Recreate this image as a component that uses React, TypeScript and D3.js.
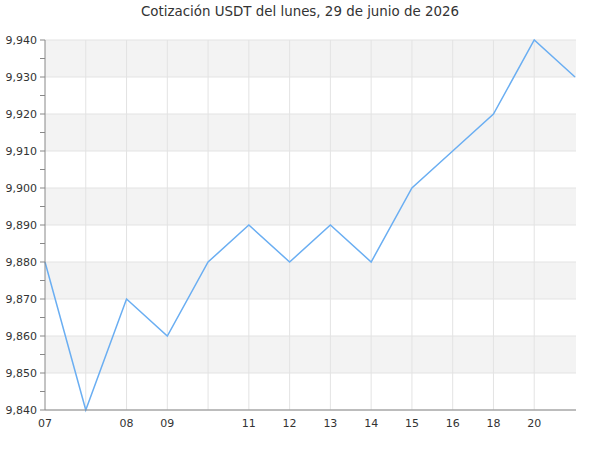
import React from "react";
import * as d3 from "d3";

const title = "Cotización USDT del lunes, 29 de junio de 2026";
const xLabels = ["07", "", "08", "09", "", "11", "12", "13", "14", "15", "16", "18", "20", ""];
const values = [9.88, 9.84, 9.87, 9.86, 9.88, 9.89, 9.88, 9.89, 9.88, 9.9, 9.91, 9.92, 9.94, 9.93];
const yTicks = [9.84, 9.85, 9.86, 9.87, 9.88, 9.89, 9.9, 9.91, 9.92, 9.93, 9.94];

export default function App() {
  const W = 600, H = 450;
  const left = 45, right = 576, top = 40, bottom = 410;
  const x = d3.scaleLinear().domain([0, values.length - 1]).range([left, 575]);
  const y = d3.scaleLinear().domain([9.84, 9.94]).range([bottom, top]);
  const line = d3.line<number>().x((_, i) => x(i)).y((d) => y(d));
  const fmt = (v: number) => d3.format(".3f")(v).replace(".", ",");
  const font = "DejaVu Sans, sans-serif";
  const minor = yTicks.slice(0, -1).map((t) => t + 0.005);

  return (
    <svg width={W} height={H} style={{ position: "absolute", left: 0, top: 0 }}>
      <rect width={W} height={H} fill="#fff" />
      <text x={W / 2} y={16} textAnchor="middle" fontFamily={font} fontSize={13.4} fill="#333">
        {title}
      </text>
      {yTicks.slice(0, -1).map((t, i) =>
        i % 2 === 1 ? (
          <rect key={"b" + i} x={left} width={right - left} y={y(t + 0.01)} height={y(t) - y(t + 0.01)} fill="#f3f3f3" />
        ) : null
      )}
      {yTicks.map((t) => (
        <line key={"gy" + t} x1={left} x2={right} y1={y(t)} y2={y(t)} stroke="#e3e3e3" strokeWidth={1} />
      ))}
      {values.map((_, i) =>
        i > 0 && i < values.length - 1 ? (
          <line key={"gx" + i} x1={x(i)} x2={x(i)} y1={top} y2={bottom} stroke="#e3e3e3" strokeWidth={1} />
        ) : null
      )}
      <path d={line(values) || ""} fill="none" stroke="#6aaef2" strokeWidth={1.5} />
      <line x1={left} x2={left} y1={top} y2={bottom} stroke="#888" strokeWidth={1} />
      <line x1={left} x2={right} y1={bottom} y2={bottom} stroke="#888" strokeWidth={1} />
      {yTicks.map((t) => (
        <g key={"yt" + t}>
          <line x1={left - 5} x2={left} y1={y(t)} y2={y(t)} stroke="#888" />
          <text x={left - 8} y={y(t)} dy="0.35em" textAnchor="end" fontFamily={font} fontSize={11} fill="#333">
            {fmt(t)}
          </text>
        </g>
      ))}
      {minor.map((t) => (
        <line key={"ym" + t} x1={left - 5} x2={left} y1={y(t)} y2={y(t)} stroke="#888" />
      ))}
      {xLabels.map((l, i) =>
        l ? (
          <text key={"xl" + i} x={x(i)} y={bottom + 17} textAnchor="middle" fontFamily={font} fontSize={11} fill="#333">
            {l}
          </text>
        ) : null
      )}
    </svg>
  );
}
